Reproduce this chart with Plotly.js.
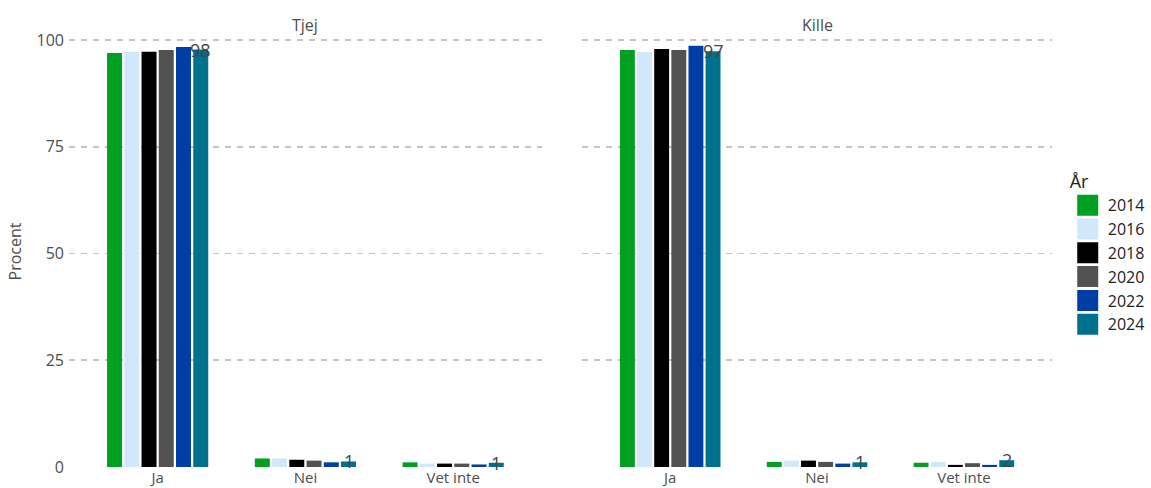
<!DOCTYPE html>
<html>
<head>
<meta charset="utf-8">
<script src="https://cdn.plot.ly/plotly-3.0.1.min.js"></script>
<style>html,body{margin:0;padding:0;background:#fff;}#chart{width:1151px;height:488px;}</style>
</head>
<body>
<div id="chart"></div>
<script>
// ---- data ----
const categories = ["Ja", "Nei", "Vet inte"];
const years = ["2014", "2016", "2018", "2020", "2022", "2024"];
const colors = ["#00A023", "#D3E7FB", "#000000", "#525252", "#003DA5", "#00708F"];
const panels = ["Tjej", "Kille"];
// values per category (Ja, Nei, Vet inte), one array per panel and year
const tjej2014 = [97.0, 2.0, 1.1];
const tjej2016 = [97.3, 2.0, 0.8];
const tjej2018 = [97.3, 1.7, 0.8];
const tjej2020 = [97.7, 1.5, 0.8];
const tjej2022 = [98.4, 1.1, 0.6];
const tjej2024 = [97.8, 1.3, 1.0];
const kille2014 = [97.7, 1.2, 1.0];
const kille2016 = [97.2, 1.5, 1.2];
const kille2018 = [97.9, 1.5, 0.5];
const kille2020 = [97.7, 1.2, 0.9];
const kille2022 = [98.7, 0.8, 0.5];
const kille2024 = [97.4, 1.1, 1.6];
const tjej = [tjej2014, tjej2016, tjej2018, tjej2020, tjej2022, tjej2024];
const kille = [kille2014, kille2016, kille2018, kille2020, kille2022, kille2024];
const labelYear = "2024";

// ---- build ----
const FONT = "Open Sans, Noto Sans, sans-serif";
const TXT = "#4d4d4d";
const BARGAP = 0.30;
const traces = [];
const panelData = [tjej, kille];
const axSuffix = ["", "2"];
panelData.forEach((pd, p) => {
  years.forEach((yr, i) => {
    traces.push({
      type: "bar",
      x: categories,
      y: pd[i],
      name: yr,
      legendgroup: yr,
      showlegend: false,
      marker: {color: colors[i], line: {width: 0}},
      xaxis: "x" + axSuffix[p],
      yaxis: "y" + axSuffix[p],
      hoverinfo: "skip"
    });
  });
});
// legend entries
years.forEach((yr, i) => {
  traces.push({
    type: "scatter", mode: "markers",
    x: [null], y: [null],
    name: yr, legendgroup: yr, showlegend: true,
    marker: {symbol: "square", size: 16, color: colors[i], line: {color: colors[i], width: 5}},
    hoverinfo: "skip"
  });
});

// labels on last series, through the axis scales
const annotations = [];
const li = years.indexOf(labelYear);
const offset = ((li + 0.5) / years.length - 0.5) * (1 - BARGAP);
panelData.forEach((pd, p) => {
  categories.forEach((c, k) => {
    const v = pd[li][k];
    annotations.push({
      xref: "x" + axSuffix[p], yref: "y" + axSuffix[p],
      x: k + offset, y: v, text: String(Math.round(v)),
      showarrow: false, xanchor: "center", yanchor: "middle",
      font: {family: FONT, size: 18, color: "#444444"}
    });
  });
  annotations.push({
    xref: "x" + axSuffix[p] + " domain", yref: "paper",
    x: 0.5, y: 1, yanchor: "middle", yshift: 10,
    text: panels[p], showarrow: false,
    font: {family: FONT, size: 16, color: TXT}
  });
});

const yax = {
  range: [-0.23, 101.2],
  tickvals: [0, 25, 50, 75, 100],
  showgrid: true, gridcolor: "#c4c4c4", gridwidth: 1.6, griddash: "6px,6px",
  zeroline: false, showline: false, ticks: "",
  tickfont: {family: FONT, size: 16, color: TXT},
  fixedrange: true
};
const xax = {
  type: "category", range: [-0.6, 2.6],
  showgrid: false, zeroline: false, showline: false, ticks: "",
  ticklabelstandoff: -1,
  tickfont: {family: FONT, size: 15, color: TXT},
  fixedrange: true
};

const layout = {
  width: 1151, height: 488,
  margin: {l: 69, r: 99, t: 35, b: 20, autoexpand: false},
  paper_bgcolor: "#ffffff", plot_bgcolor: "#ffffff",
  barmode: "group", bargap: BARGAP, bargroupgap: 0.13,
  font: {family: FONT, color: TXT},
  xaxis: Object.assign({}, xax, {domain: [0, 0.481], anchor: "y"}),
  xaxis2: Object.assign({}, xax, {domain: [0.522, 1], anchor: "y2"}),
  yaxis: Object.assign({}, yax, {anchor: "x", ticklabelstandoff: 4,
    title: {text: "Procent", font: {family: FONT, size: 16, color: TXT}, standoff: 10}}),
  yaxis2: Object.assign({}, yax, {anchor: "x2", showticklabels: false, matches: "y"}),
  legend: {
    x: 1.016, xanchor: "left", y: 0.70, yanchor: "top",
    title: {text: "År", font: {family: FONT, size: 18, color: "#222222"}},
    font: {family: FONT, size: 16, color: "#222222"},
    bgcolor: "rgba(0,0,0,0)", tracegroupgap: 0
  },
  annotations: annotations,
  showlegend: true
};

Plotly.newPlot("chart", traces, layout, {displayModeBar: false, staticPlot: true});
</script>
</body>
</html>
